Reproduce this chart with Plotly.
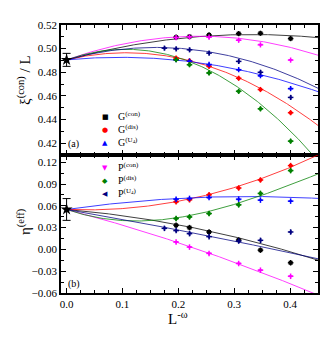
import numpy as np
import plotly.graph_objects as go
from plotly.subplots import make_subplots

# ---------------- data ----------------
x_L = [0.196, 0.220, 0.255, 0.308, 0.347, 0.401]
x_L_PU = [0.175, 0.196, 0.220, 0.255, 0.308, 0.347, 0.401]

series_names = ["G<sup>(con)</sup>", "G<sup>(dis)</sup>", "G<sup>(U<sub>4</sub>)</sup>",
                "P<sup>(con)</sup>", "P<sup>(dis)</sup>", "P<sup>(U<sub>4</sub>)</sup>"]

# top panel: xi^(con)/L
xi_G_con = [0.5097, 0.5102, 0.5116, 0.5127, 0.5130, 0.5085]
xi_G_dis = [0.4920, 0.4897, 0.4850, 0.4749, 0.4654, 0.4458]
xi_G_U = [0.4906, 0.4895, 0.4866, 0.4822, 0.4771, 0.4662]
xi_P_con = [0.5093, 0.5099, 0.5097, 0.5071, 0.5032, 0.4903]
xi_P_dis = [0.4906, 0.4864, 0.4794, 0.4639, 0.4491, 0.4217]
xi_P_U = [0.5004, 0.4998, 0.4990, 0.4962, 0.4892, 0.4800, 0.4587]

# bottom panel: eta^(eff)
eta_G_con = [0.0332, 0.0300, 0.0240, 0.0129, -0.0010, -0.0184]
eta_G_dis = [0.0655, 0.0683, 0.0752, 0.0845, 0.0956, 0.1154]
eta_G_U = [0.0692, 0.0702, 0.0716, 0.0692, 0.0679, 0.0665]
eta_P_con = [0.0101, 0.0032, -0.0055, -0.0194, -0.0286, -0.0370]
eta_P_dis = [0.0425, 0.0447, 0.0494, 0.0614, 0.0771, 0.1085]
eta_P_U = [0.0290, 0.0259, 0.0217, 0.0176, 0.0115, 0.0125, 0.0240]

# extrapolated L -> infinity values with errors
xi_inf, xi_inf_err = 0.4905, 0.0055
eta_inf, eta_inf_err = 0.055, 0.015

# fit coefficients: y = y_inf + b x + c x^2 + d x^3
fit_xi_b = [0.1289, 0.1123, 0.0447, 0.1690, 0.1689, 0.1315]
fit_xi_c = [-0.1936, -0.5237, -0.2322, -0.3562, -0.7970, -0.4109]
fit_xi_d = [0.0, 0.0, 0.0, 0.0, 0.0, 0.0]
fit_eta_b = [-0.0658, -0.0320, 0.1099, -0.2022, -0.2674, -0.1336]
fit_eta_c = [-0.1985, 0.4413, -0.1690, -0.1328, 1.2332, -0.0384]
fit_eta_d = [0.0, 0.0, 0.0, 0.0, -0.8835, 0.0]

# ---------------- styles ----------------
colors = ["#000000", "#ff0000", "#0000ff", "#ff00ff", "#008000", "#000080"]
symbols = ["square", "circle", "triangle-up", "triangle-down", "diamond", "triangle-left"]
glyphs = ["\u25A0", "\u25CF", "\u25B2", "\u25BC", "\u25C6", "\u25C0"]
FONT = "Liberation Serif, Times New Roman, serif"

xi_data = [xi_G_con, xi_G_dis, xi_G_U, xi_P_con, xi_P_dis, xi_P_U]
eta_data = [eta_G_con, eta_G_dis, eta_G_U, eta_P_con, eta_P_dis, eta_P_U]
x_data = [x_L, x_L, x_L, x_L, x_L, x_L_PU]

fig = make_subplots(rows=2, cols=1, shared_xaxes=True, vertical_spacing=0)

xf = np.linspace(0, 0.45, 200)

def add_panel(row, yvals, y0, b, c, d, ey):
    for i in range(6):
        yf = y0 + b[i] * xf + c[i] * xf ** 2 + d[i] * xf ** 3
        fig.add_trace(go.Scatter(x=xf, y=yf, mode="lines",
                                 line=dict(color=colors[i], width=1),
                                 opacity=0.75, showlegend=False, hoverinfo="skip"),
                      row=row, col=1)
    for i in range(6):
        fig.add_trace(go.Scatter(x=x_data[i], y=yvals[i], mode="markers",
                                 marker=dict(symbol=symbols[i], color=colors[i], size=4),
                                 error_y=dict(type="constant", value=ey, color=colors[i],
                                              thickness=1.5, width=0),
                                 error_x=dict(type="constant", value=0.005, color=colors[i],
                                              thickness=1.5, width=0),
                                 showlegend=False),
                      row=row, col=1)

add_panel(1, xi_data, xi_inf, fit_xi_b, fit_xi_c, fit_xi_d, 0.0022)
add_panel(2, eta_data, eta_inf, fit_eta_b, fit_eta_c, fit_eta_d, 0.0038)

fig.add_trace(go.Scatter(x=[0.0], y=[xi_inf], mode="markers",
                         marker=dict(symbol="star", color="black", size=9),
                         error_y=dict(type="constant", value=xi_inf_err, color="black",
                                      thickness=1, width=4), showlegend=False), row=1, col=1)
fig.add_trace(go.Scatter(x=[0.0], y=[eta_inf], mode="markers",
                         marker=dict(symbol="star", color="black", size=9),
                         error_y=dict(type="constant", value=eta_inf_err, color="black",
                                      thickness=1, width=4), showlegend=False), row=2, col=1)

axis_common = dict(showline=True, linecolor="black", linewidth=1.5, mirror="allticks",
                   ticks="inside", ticklen=5, tickwidth=1, tickcolor="black",
                   showgrid=False, zeroline=False,
                   tickfont=dict(family=FONT, size=11, color="black"))

fig.update_xaxes(range=[-0.01, 0.45], tick0=0, dtick=0.1, tickformat=".1f",
                 minor=dict(ticks="inside", ticklen=3, dtick=0.025, tickcolor="black"),
                 **axis_common)
fig.update_xaxes(showticklabels=False, row=1, col=1)
fig.update_xaxes(showticklabels=True, row=2, col=1)
fig.update_yaxes(range=[0.41, 0.52], tick0=0, dtick=0.02, tickformat=".2f",
                 minor=dict(ticks="inside", ticklen=3, dtick=0.01, tickcolor="black"),
                 row=1, col=1, **axis_common)
fig.update_yaxes(range=[-0.06, 0.13], tick0=0, dtick=0.03, tickformat=".2f",
                 minor=dict(ticks="inside", ticklen=3, dtick=0.015, tickcolor="black"),
                 row=2, col=1, **axis_common)
fig.update_layout(yaxis=dict(domain=[0.515, 1.0]), yaxis2=dict(domain=[0.0, 0.515]))

# page offset of the plot (browser body margin)
OFF = 8
W, H = 332, 358
PL, PR, PT, PB = 61, 318, 25, 293   # desired plot-area edges on the page
L, T = PL - OFF, PT - OFF
R, B = W - (PR - OFF), H - (PB - OFF)
pw, ph = PR - PL, PB - PT

def px(xp):
    return (xp - PL) / pw

def py(yp):
    return (PB - yp) / ph

ann = []
# legend entries
leg_rows = [(117, 0), (130, 1), (143, 2), (168, 3), (181, 4), (194, 5)]
for ypix, i in leg_rows:
    ann.append(dict(x=px(105), y=py(ypix), xref="paper", yref="paper",
                    text=glyphs[i], showarrow=False, xanchor="center", yanchor="middle",
                    font=dict(family="DejaVu Sans", size=7, color=colors[i])))
    ann.append(dict(x=px(116), y=py(ypix - 1), xref="paper", yref="paper",
                    text=series_names[i], showarrow=False, xanchor="left", yanchor="middle",
                    font=dict(family=FONT, size=10, color="black")))
# panel labels
ann.append(dict(x=px(66), y=py(144), xref="paper", yref="paper", text="(a)",
                showarrow=False, xanchor="left", yanchor="middle",
                font=dict(family=FONT, size=10, color="black")))
ann.append(dict(x=px(66), y=py(284), xref="paper", yref="paper", text="(b)",
                showarrow=False, xanchor="left", yanchor="middle",
                font=dict(family=FONT, size=10, color="black")))
# axis titles
ann.append(dict(x=px(24), y=py(80), xref="paper", yref="paper",
                text="\u03be<sup>(con)</sup> / L", textangle=-90, showarrow=False,
                xanchor="center", yanchor="middle",
                font=dict(family=FONT, size=15, color="black")))
ann.append(dict(x=px(24), y=py(222), xref="paper", yref="paper",
                text="\u03b7<sup>(eff)</sup>", textangle=-90, showarrow=False,
                xanchor="center", yanchor="middle",
                font=dict(family=FONT, size=15, color="black")))
ann.append(dict(x=px(178), y=py(318), xref="paper", yref="paper",
                text="L<sup>-\u03c9</sup>", showarrow=False,
                xanchor="center", yanchor="middle",
                font=dict(family=FONT, size=15, color="black")))

fig.update_layout(width=W, height=H, margin=dict(l=L, r=R, t=T, b=B),
                  paper_bgcolor="white", plot_bgcolor="white",
                  showlegend=False, annotations=ann,
                  font=dict(family=FONT, color="black"))

fig.write_html("out.html")
